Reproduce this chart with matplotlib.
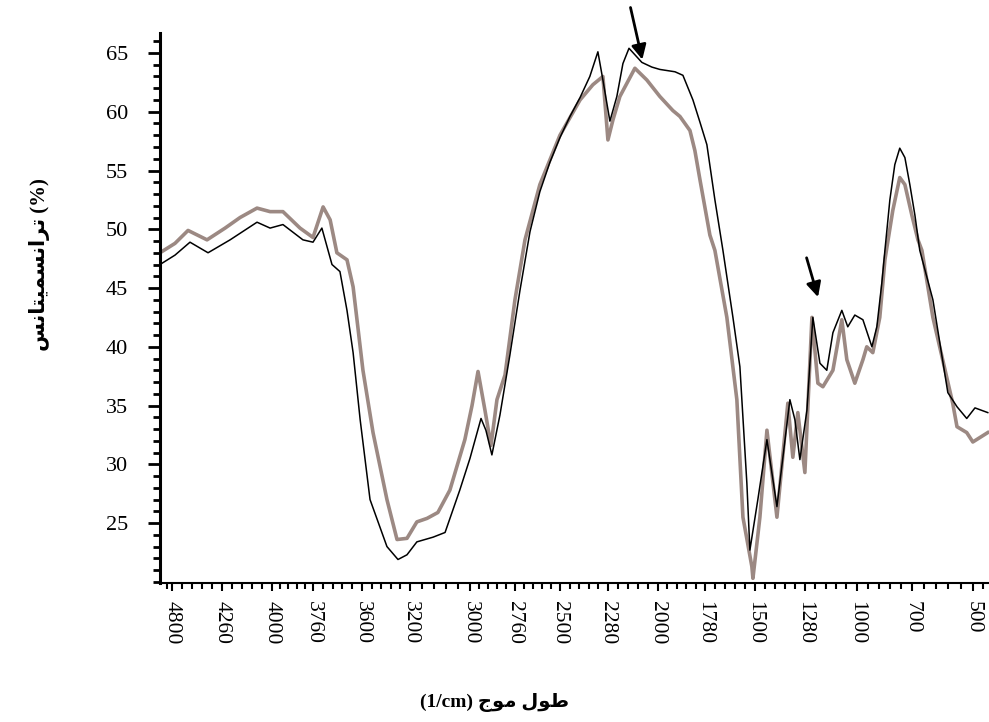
import numpy as np
import matplotlib
matplotlib.use("Agg")
import matplotlib.pyplot as plt
from matplotlib.ticker import FixedLocator, MultipleLocator

# printed wavenumber ticks (the original axis is not linear)
wn_ticks = [4800, 4260, 4000, 3760, 3600, 3200, 3000, 2760, 2500, 2280,
            2000, 1780, 1500, 1280, 1000, 700, 500]
y_ticks = [25, 30, 35, 40, 45, 50, 55, 60, 65]

# sample 1 (thin black)
wn_black = [4930, 4768, 4606, 4411, 4218, 4078, 4010, 3936, 3819, 3760,
            3731, 3698, 3672, 3649, 3629, 3606, 3533, 3392, 3300, 3225,
            3177, 3123, 3083, 3034, 3000, 2941, 2915, 2883, 2840, 2787,
            2731, 2673, 2616, 2558, 2500, 2454, 2408, 2363, 2326, 2303,
            2269, 2230, 2196, 2162, 2090, 2034, 1991, 1920, 1883, 1836,
            1803, 1769, 1724, 1679, 1623, 1584, 1545, 1528, 1487, 1447,
            1403, 1346, 1324, 1302, 1269, 1237, 1199, 1162, 1129, 1081,
            1049, 1011, 967, 918, 891, 864, 847, 820, 793, 766,
            738, 711, 690, 674, 631, 582, 552, 520, 493, 451]
t_black = [47.0, 47.8, 48.9, 48.0, 49.1, 50.6, 50.1, 50.4, 49.1, 48.9,
           50.1, 47.0, 46.4, 43.1, 39.5, 33.8, 27.0, 23.0, 21.9, 22.3,
           23.4, 23.8, 24.2, 27.8, 30.5, 33.9, 32.9, 30.8, 34.2, 39.3,
           44.8, 49.8, 53.2, 55.7, 57.8, 59.6, 61.2, 63.0, 65.1, 62.7,
           59.2, 61.3, 64.1, 65.4, 64.2, 63.8, 63.6, 63.4, 63.1, 61.0,
           59.1, 57.2, 52.5, 48.2, 42.5, 38.3, 28.4, 22.7, 27.0, 32.1,
           26.4, 35.5, 33.8, 30.4, 34.6, 42.5, 38.6, 38.0, 41.2, 43.1,
           41.7, 42.7, 42.3, 40.0, 41.7, 45.4, 48.2, 52.5, 55.5, 56.9,
           56.1, 53.8, 51.2, 48.2, 44.0, 36.1, 34.9, 33.9, 34.8, 34.4]

# sample 2 (thick grey)
wn_grey = [4930, 4768, 4627, 4422, 4244, 4166, 4078, 4010, 3936, 3836,
           3760, 3727, 3704, 3682, 3649, 3629, 3592, 3508, 3392, 3308,
           3225, 3177, 3143, 3107, 3067, 3017, 2989, 2957, 2920, 2888,
           2856, 2813, 2760, 2702, 2616, 2500, 2408, 2349, 2303, 2280,
           2252, 2213, 2129, 2062, 1991, 1930, 1897, 1850, 1827, 1803,
           1752, 1724, 1657, 1601, 1567, 1517, 1511, 1478, 1447, 1403,
           1355, 1333, 1311, 1280, 1242, 1210, 1183, 1129, 1081, 1054,
           1011, 967, 946, 913, 875, 847, 804, 766, 738, 700,
           680, 667, 631, 566, 552, 520, 500, 451]
t_grey = [48.0, 48.8, 49.9, 49.1, 50.1, 51.0, 51.8, 51.5, 51.5, 50.1,
          49.3, 51.9, 50.8, 48.0, 47.4, 45.1, 38.0, 32.7, 27.0, 23.6,
          23.7, 25.1, 25.4, 25.9, 27.8, 32.1, 35.0, 37.9, 34.6, 31.6,
          35.5, 37.6, 44.0, 49.1, 53.8, 58.0, 61.0, 62.3, 63.0, 57.6,
          59.3, 61.3, 63.7, 62.7, 61.3, 60.1, 59.6, 58.4, 56.7, 54.2,
          49.5, 48.2, 42.5, 35.5, 25.5, 21.3, 20.3, 25.5, 32.9, 25.5,
          35.2, 30.6, 34.4, 29.3, 42.5, 36.9, 36.6, 38.0, 42.3, 38.9,
          36.9, 38.9, 40.0, 39.5, 42.5, 47.4, 51.6, 54.4, 53.8, 51.2,
          49.1, 48.2, 42.5, 35.2, 33.2, 32.7, 31.9, 32.7]

# where each printed tick sits along the axis (pixels)
tick_pos = [172, 222, 272, 313, 362, 410, 470, 515, 560, 608,
            658, 705, 755, 805, 857, 912, 973]

xp = np.array(wn_ticks[::-1], dtype=float)
fp = -np.array(tick_pos[::-1], dtype=float)


def _interp(x, a, b):
    x = np.asarray(x, dtype=float)
    y = np.interp(x, a, b)
    lo = x < a[0]
    hi = x > a[-1]
    y = np.where(lo, b[0] + (x - a[0]) * (b[1] - b[0]) / (a[1] - a[0]), y)
    y = np.where(hi, b[-1] + (x - a[-1]) * (b[-1] - b[-2]) / (a[-1] - a[-2]), y)
    return y


def forward(w):
    return _interp(w, xp, fp)


def inverse(v):
    return _interp(v, fp, xp)


plt.rcParams['font.family'] = ['Liberation Serif', 'DejaVu Sans']

fig = plt.figure(figsize=(9.89, 7.22), dpi=100)
ax = fig.add_axes([160 / 989, 139 / 722, 829 / 989, 550 / 722])

ax.plot(wn_grey, t_grey, color='#9c8983', lw=2.6, solid_joinstyle='round')
ax.plot(wn_black, t_black, color='black', lw=1.1)

ax.set_xscale('function', functions=(forward, inverse))
ax.set_xlim(4930, 447)
ax.set_ylim(19.9, 66.7)

# minor x ticks: 5 steps inside each printed interval
minor = []
for a, b in zip(wn_ticks[:-1], wn_ticks[1:]):
    minor += list(np.linspace(a, b, 6)[1:-1])
minor += [4854, 467]
ax.xaxis.set_major_locator(FixedLocator(wn_ticks))
ax.xaxis.set_minor_locator(FixedLocator(minor))
ax.set_xticklabels([str(w) for w in wn_ticks], rotation=270,
                   fontsize=15.5, va='top', ha='center')

ax.yaxis.set_major_locator(FixedLocator(y_ticks))
ax.yaxis.set_minor_locator(MultipleLocator(1))
ax.set_yticklabels([str(v) for v in y_ticks], fontsize=16)

ax.tick_params(axis='y', which='major', length=9, width=2, pad=14)
ax.tick_params(axis='y', which='minor', length=5, width=2)
ax.tick_params(axis='x', which='major', length=6, width=1.5, pad=7)
ax.tick_params(axis='x', which='minor', length=4, width=1.5)

for s in ['top', 'right']:
    ax.spines[s].set_visible(False)
ax.spines['left'].set_linewidth(2.2)
ax.spines['bottom'].set_linewidth(1.5)

# arrows marking the bands
ax.annotate('', xy=(2084, 64.2), xytext=(2157, 69.1),
            arrowprops=dict(arrowstyle='-|>', color='black', lw=2,
                            mutation_scale=22),
            annotation_clip=False)
ax.annotate('', xy=(1205, 44.0), xytext=(1275, 47.8),
            arrowprops=dict(arrowstyle='-|>', color='black', lw=2,
                            mutation_scale=22),
            annotation_clip=False)

# axis titles (Persian, written in presentation forms, visual order)
ylab = '\ufeb2\ufee7\ufe8e\ufe98\ufef4\ufee4\ufeb4\ufee7\ufe8d\ufeae\ufe97 (%)'
xlab = '(1/cm) \ufe9d\ufeee\ufee3 \ufedd\ufeee\ufec3'
fig.text(40 / 989, 1 - 265 / 722, ylab, rotation=90, fontsize=15,
         fontweight='bold', ha='center', va='center')
fig.text(495 / 989, 1 - 702 / 722, xlab, fontsize=14,
         fontweight='bold', ha='center', va='center')

fig.savefig('out.png', dpi=100)
